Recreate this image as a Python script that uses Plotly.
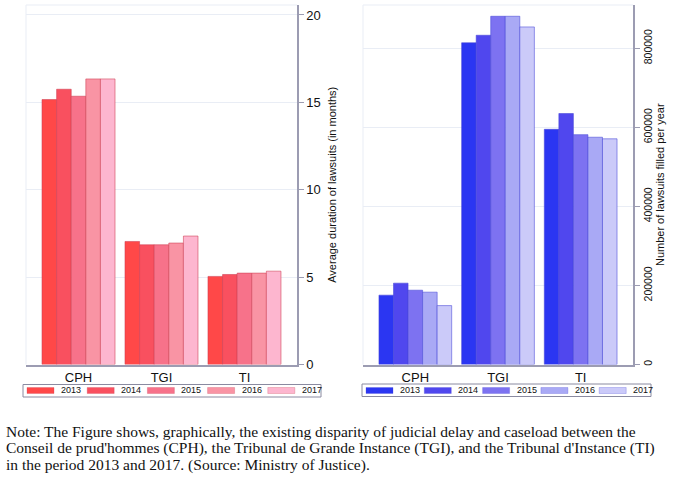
import plotly.graph_objects as go

categories = ["CPH", "TGI", "TI"]
years = ["2013", "2014", "2015", "2016", "2017"]

# Average duration of lawsuits (months)
dur_2013 = [15.16, 7.04, 5.04]
dur_2014 = [15.75, 6.85, 5.15]
dur_2015 = [15.35, 6.85, 5.23]
dur_2016 = [16.34, 6.95, 5.23]
dur_2017 = [16.34, 7.35, 5.34]
durations = [dur_2013, dur_2014, dur_2015, dur_2016, dur_2017]

# Number of lawsuits filed per year
num_2013 = [175500, 814000, 595000]
num_2014 = [205800, 833000, 635000]
num_2015 = [188000, 881000, 581500]
num_2016 = [183000, 881000, 575000]
num_2017 = [149000, 854000, 571000]
numbers = [num_2013, num_2014, num_2015, num_2016, num_2017]

dur_ticks = [0, 5, 10, 15, 20]
num_ticks = [0, 200000, 400000, 600000, 800000]

reds = ["#FF4848", "#F9505F", "#F7728A", "#F994A4", "#FDB6CF"]
blues = ["#2B36F2", "#5047EE", "#7D72F1", "#A9A9F5", "#CBCAF9"]
red_line = "rgba(205,60,80,0.55)"
blue_line = "rgba(70,70,215,0.55)"

W, H = 685, 479
AX = "#9c9cb2"
GRID = "#e9edf5"
SANS = "Liberation Sans, Arial, sans-serif"

fig = go.Figure()
for i, y in enumerate(years):
    fig.add_trace(go.Bar(x=categories, y=durations[i], name=y, xaxis="x", yaxis="y",
                         marker=dict(color=reds[i], line=dict(color=red_line, width=1)),
                         showlegend=False))
for i, y in enumerate(years):
    fig.add_trace(go.Bar(x=categories, y=numbers[i], name=y, xaxis="x2", yaxis="y2",
                         marker=dict(color=blues[i], line=dict(color=blue_line, width=1)),
                         showlegend=False))

def px(x):
    return x / W

def py(y):
    return 1 - y / H

ydom = [py(364.5), py(5)]
common_x = dict(type="category", range=[-0.633, 2.633], showline=True, linecolor=AX,
                linewidth=1.5, ticks="", showgrid=False, zeroline=False, automargin=False,
                tickfont=dict(family=SANS, size=13, color="#111"))
fig.update_layout(
    width=W, height=H, margin=dict(l=0, r=0, t=0, b=0, autoexpand=False),
    paper_bgcolor="white", plot_bgcolor="white",
    barmode="group", bargap=0.12, bargroupgap=0,
    xaxis=dict(domain=[px(26), px(297)], anchor="y", **common_x),
    xaxis2=dict(domain=[px(363), px(633)], anchor="y2", **common_x),
    yaxis=dict(domain=ydom, anchor="x", side="right", range=[0, 20.57],
               tickvals=dur_ticks, ticks="outside", ticklen=5, tickcolor=AX,
               showline=True, linecolor=AX, linewidth=1.5, automargin=False,
               gridcolor=GRID, zeroline=False,
               tickfont=dict(family=SANS, size=13, color="#111"),
               title=dict(text="Average duration of lawsuits (in months)",
                          font=dict(family=SANS, size=11, color="#111"), standoff=8)),
    yaxis2=dict(domain=ydom, anchor="x2", side="right", range=[0, 909500],
                tickvals=num_ticks, tickformat="d", ticks="outside", ticklen=5,
                tickcolor=AX, tickangle=-90, showline=True, linecolor=AX, linewidth=1.5,
                automargin=False, gridcolor=GRID, zeroline=False,
                tickfont=dict(family=SANS, size=10.5, color="#111"),
                title=dict(text="Number of lawsuits filled per year",
                           font=dict(family=SANS, size=11, color="#111"), standoff=2)),
)

# faint plot-area borders (top and left)
for xr, yr in (("x domain", "y domain"), ("x2 domain", "y2 domain")):
    fig.add_shape(type="line", xref=xr, yref=yr, x0=0, x1=1, y0=1, y1=1,
                  line=dict(color=GRID, width=1))
    fig.add_shape(type="line", xref=xr, yref=yr, x0=0, x1=0, y0=0, y1=1,
                  line=dict(color=GRID, width=1))

# legends (manual, Stata-style)
def legend(box, first_sw, step, colors, line_col):
    x0, x1, y0, y1 = box
    fig.add_shape(type="rect", xref="paper", yref="paper", x0=px(x0), x1=px(x1),
                  y0=py(y1), y1=py(y0), line=dict(color="#8a8aa0", width=1),
                  fillcolor="white")
    for i, yr in enumerate(years):
        sx = first_sw + i * step
        fig.add_shape(type="rect", xref="paper", yref="paper", x0=px(sx), x1=px(sx + 27),
                      y0=py(393.5), y1=py(387.5), fillcolor=colors[i],
                      line=dict(color=line_col, width=0.5))
        fig.add_annotation(xref="paper", yref="paper", x=px(sx + 32), y=py(390.3),
                           text=yr, showarrow=False, xanchor="left", yanchor="middle",
                           font=dict(family=SANS, size=9, color="#111"))

legend((23, 321, 384.5, 397), 27, 60.2, reds, red_line)
legend((362, 651, 384, 396.5), 366, 58.3, blues, blue_line)

note_lines = [
    "Note: The Figure shows, graphically, the existing disparity of judicial delay and caseload between the",
    "Conseil de prud'hommes (CPH), the Tribunal de Grande Instance (TGI), and the Tribunal d'Instance (TI)",
    "in the period 2013 and 2017. (Source: Ministry of Justice).",
]
for i, t in enumerate(note_lines):
    fig.add_annotation(xref="paper", yref="paper", x=px(4), y=py(431 + 17 * i),
                       text=t, showarrow=False, xanchor="left", yanchor="middle",
                       font=dict(family="Liberation Serif, Times New Roman, serif",
                                 size=15.5, color="#111"))

fig.write_html("out.html", config={"displayModeBar": False},
               post_script="document.body.style.margin='0px';document.body.style.overflow='hidden';")
